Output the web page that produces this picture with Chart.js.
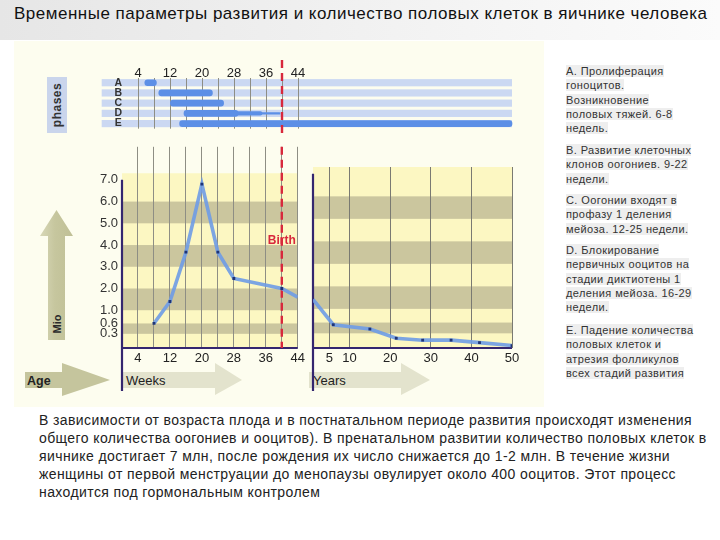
<!DOCTYPE html>
<html><head><meta charset="utf-8">
<script src="https://cdn.jsdelivr.net/npm/chart.js@4.4.1/dist/chart.umd.min.js"></script>
<style>
body{margin:0;width:720px;height:540px;position:relative;overflow:hidden;background:#fff;font-family:"Liberation Sans",Arial,sans-serif;}
.abs{position:absolute}
canvas{position:absolute}
#topband{left:0;top:0;width:720px;height:40px;background:linear-gradient(to right,#e6e6e6,#f1f1f1 50%,#fbfbfb)}
#title{left:14px;top:4px;font-size:17px;letter-spacing:0.5px;color:#111;white-space:nowrap}
#panel{left:14px;top:41px;width:530px;height:366px;background:#fdfdef}
.note{position:absolute;left:566px;font-size:11px;letter-spacing:0.4px;line-height:14.4px;color:#333;white-space:nowrap}
.note span{background:#eeeeee}
#para{left:39px;top:411px;font-size:14px;letter-spacing:0.4px;line-height:18px;color:#222;white-space:nowrap}
</style></head>
<body>
<div id="topband" class="abs"></div>
<div id="title" class="abs">Временные параметры развития и количество половых клеток в яичнике человека</div>
<div id="panel" class="abs"></div>
<svg class="abs" style="left:0;top:0" width="720" height="540">
 <defs>
  <linearGradient id="gv" x1="0" x2="1" y1="0" y2="0"><stop offset="0" stop-color="#d8d8b8"/><stop offset="0.45" stop-color="#c6c69e"/><stop offset="1" stop-color="#c0c096"/></linearGradient>
 </defs>
 <polygon points="48,340 65,340 65,236 73,236 56.5,210 40,236 48,236" fill="url(#gv)"/>
 <polygon points="25,372 62,372 62,363 110,380 62,396 62,388 25,388" fill="#c5c59d"/>
 <polygon points="123,372 215,372 215,363 242,380 215,395 215,388 123,388" fill="#e3e3cd"/>
 <polygon points="309,372 401,372 401,363 430,380 401,395 401,388 309,388" fill="#e3e3cd"/>
 <rect x="47" y="77" width="20" height="56" fill="#cad5ec"/>
 <text x="0" y="0" transform="translate(61,105) rotate(-90)" text-anchor="middle" font-size="12" font-weight="bold" fill="#333" font-family="Liberation Sans, Arial, sans-serif" letter-spacing="0.5">phases</text>
 <text x="0" y="0" transform="translate(61,324) rotate(-90)" text-anchor="middle" font-size="11" font-weight="bold" fill="#2a2a2a" font-family="Liberation Sans, Arial, sans-serif">Mio</text>
 <text x="27" y="384.5" font-size="12.5" font-weight="bold" fill="#222" font-family="Liberation Sans, Arial, sans-serif">Age</text>
 <text x="126" y="384.5" font-size="13" fill="#222" font-family="Liberation Sans, Arial, sans-serif">Weeks</text>
 <text x="313" y="384.5" font-size="13" fill="#222" font-family="Liberation Sans, Arial, sans-serif">Years</text>
</svg>
<canvas id="cPhase" width="420" height="80" style="left:100px;top:55px;width:420px;height:80px"></canvas>
<canvas id="cWeeks" width="246" height="257" style="left:62px;top:135px;width:246px;height:257px"></canvas>
<canvas id="cYears" width="215" height="229" style="left:309px;top:163px;width:215px;height:229px"></canvas>

<div class="note" style="top:63.8px"><span>А. Пролиферация</span><br><span>гоноцитов.</span><br><span>Возникновение</span><br><span>половых тяжей. 6-8</span><br><span>недель.</span></div>
<div class="note" style="top:142.8px"><span>В. Развитие клеточных</span><br><span>клонов оогониев. 9-22</span><br><span>недели.</span></div>
<div class="note" style="top:192.8px"><span>С. Оогонии входят в</span><br><span>профазу 1 деления</span><br><span>мейоза. 12-25 недели.</span></div>
<div class="note" style="top:242.8px"><span>D. Блокирование</span><br><span>первичных ооцитов на</span><br><span>стадии диктиотены 1</span><br><span>деления мейоза. 16-29</span><br><span>недели.</span></div>
<div class="note" style="top:322.8px"><span>Е. Падение количества</span><br><span>половых клеток и</span><br><span>атрезия фолликулов</span><br><span>всех стадий развития</span></div>

<div id="para" class="abs">В зависимости от возраста плода и в постнатальном периоде развития происходят изменения<br>общего количества оогониев и ооцитов). В пренатальном развитии количество половых клеток в<br>яичнике достигает 7 млн, после рождения их число снижается до 1-2 млн. В течение жизни<br>женщины от первой менструации до менопаузы овулирует около 400 ооцитов. Этот процесс<br>находится под гормональным контролем</div>

<script>
// ---------- data ----------
const phaseLabels = ['A','B','C','D','E'];
const phaseStart  = [5.7, 9.2, 12.1, 15.5, 14.4];
const phaseEnd    = [8.6, 22.6, 25.4, 39.5, 97.5];
const phaseDThickEnd = 29;   // phase D: thick part ends, then tapers to phaseEnd[3]
const phaseDMidEnd   = 35;

const weekTickLabels = [4, 12, 20, 28, 36, 44];
const weekGrid = [4, 8, 12, 16, 20, 24, 28, 32, 36, 40, 44];
const birthWeek = 40;

const weekX = [8, 12, 16, 20, 24, 28, 40, 44];
const weekY = [0.6, 1.4, 3.67, 6.8, 3.67, 2.46, 2.0, 1.6];

const yearTicks = [5, 10, 20, 30, 40, 50];
const yearX = [1, 6, 15, 21.5, 28, 35, 42, 50];
const yearY = [1.42, 0.54, 0.42, 0.2, 0.16, 0.16, 0.11, 0.05];

const yTicks = [0.3, 0.6, 1, 2, 3, 4, 5, 6, 7];
const darkBands = [[5, 6], [3, 4], [1, 2], [0.3, 0.6]];

// ---------- piecewise value scale ----------
const KV = [0, 0.3, 0.6, 1, 7];
const KU = [0, 15, 26, 40, 178];
function fwd(v){
  if (v <= KV[0]) return KU[0] + (v - KV[0]) * 50;
  for (let i = 1; i < KV.length; i++) if (v <= KV[i]) return KU[i-1] + (v - KV[i-1]) * (KU[i]-KU[i-1])/(KV[i]-KV[i-1]);
  return KU[KU.length-1] + (v - KV[KV.length-1]) * 23;
}
function inv(u){
  if (u <= KU[0]) return KV[0] + (u - KU[0]) / 50;
  for (let i = 1; i < KU.length; i++) if (u <= KU[i]) return KV[i-1] + (u - KU[i-1]) * (KV[i]-KV[i-1])/(KU[i]-KU[i-1]);
  return KV[KV.length-1] + (u - KU[KU.length-1]) / 23;
}
class BandScale extends Chart.LinearScale {
  getPixelForValue(v){ const a = fwd(this.min), b = fwd(this.max); return this.getPixelForDecimal((fwd(v) - a) / (b - a)); }
  getValueForPixel(p){ const a = fwd(this.min), b = fwd(this.max); return inv(a + this.getDecimalForPixel(p) * (b - a)); }
}
BandScale.id = 'bandscale';
BandScale.defaults = Chart.LinearScale.defaults;
Chart.register(BandScale);

Chart.defaults.font.family = "'Liberation Sans', Arial, sans-serif";

const LIGHT = '#fcf7c2', DARK = '#cbc69e', LINE = 'rgba(110,155,230,0.9)', MARK = '#1f3475';
const BAR = '#5c8fe6', ROW = '#cbd8f2', PURPLE = '#34266f', RED = '#d8283c', GRID = '#8e8e84';
const yMaxWeeks = inv(213), yMaxYears = inv(185), yFill = inv(185);

const bandsPlugin = { id: 'bands', beforeDraw(chart){
  const {ctx, chartArea: a, scales: {y}} = chart;
  ctx.save();
  const top = y.getPixelForValue(yFill);
  ctx.fillStyle = LIGHT; ctx.fillRect(a.left, top, a.right - a.left, a.bottom - top);
  ctx.fillStyle = DARK;
  darkBands.forEach(([lo, hi]) => { const p1 = y.getPixelForValue(hi), p2 = y.getPixelForValue(lo); ctx.fillRect(a.left, p1, a.right - a.left, p2 - p1); });
  ctx.restore();
}};
const axisPlugin = { id: 'axes', beforeDatasetsDraw(chart){
  const {ctx, chartArea: a, scales: {y}} = chart;
  ctx.save(); ctx.strokeStyle = PURPLE; ctx.lineWidth = 2.2;
  ctx.beginPath();
  ctx.moveTo(a.left, y.getPixelForValue(7)); ctx.lineTo(a.left, chart.height - 1);
  ctx.moveTo(a.left - 1, a.bottom); ctx.lineTo(a.right, a.bottom);
  ctx.stroke(); ctx.restore();
}};
const birthPlugin = { id: 'birth', beforeDatasetsDraw(chart){
  const {ctx, chartArea: a, scales: {x}} = chart;
  const px = x.getPixelForValue(birthWeek);
  ctx.save(); ctx.strokeStyle = RED; ctx.lineWidth = 2.4; ctx.setLineDash([8, 5]);
  ctx.beginPath(); ctx.moveTo(px, a.top); ctx.lineTo(px, a.bottom); ctx.stroke();
  ctx.setLineDash([]);
  ctx.fillStyle = RED; ctx.font = "bold 12px 'Liberation Sans', Arial, sans-serif";
  ctx.textAlign = 'center'; ctx.textBaseline = 'middle';
  ctx.fillText('Birth', px, chart.scales.y.getPixelForValue(4.18));
  ctx.restore();
}};
const rowsPlugin = { id: 'rows', beforeDraw(chart){
  const {ctx, scales: {x, y}} = chart;
  ctx.save(); ctx.fillStyle = ROW;
  const x0 = 1.7, x1 = x.getPixelForValue(phaseEnd[4]);
  phaseLabels.forEach((_, i) => { const cy = y.getPixelForValue(i); ctx.fillRect(x0, cy - 3.6, x1 - x0, 7.2); });
  ctx.restore();
}};
const birthPhasePlugin = { id: 'birthPhase', afterDatasetsDraw(chart){
  const {ctx, scales: {x}} = chart;
  const px = x.getPixelForValue(birthWeek);
  ctx.save(); ctx.strokeStyle = RED; ctx.lineWidth = 2.4; ctx.setLineDash([8, 5]);
  ctx.beginPath(); ctx.moveTo(px, 5); ctx.lineTo(px, chart.height); ctx.stroke();
  ctx.restore();
}};

const common = { responsive: false, animation: false, events: [], devicePixelRatio: 1,
  plugins: { legend: { display: false }, tooltip: { enabled: false } } };

// ---------- phases ----------
const onlyD = (v) => phaseLabels.map((_, i) => i === 3 ? v : null);
new Chart(document.getElementById('cPhase'), {
  type: 'bar',
  data: { labels: phaseLabels, datasets: [
    { data: phaseLabels.map((_, i) => [phaseStart[i], i === 3 ? phaseDThickEnd : phaseEnd[i]]), barThickness: 6, backgroundColor: BAR, borderRadius: 3, borderSkipped: false, grouped: false },
    { data: onlyD([phaseDThickEnd - 1, phaseDMidEnd]), barThickness: 3.6, backgroundColor: BAR, borderRadius: 2, borderSkipped: false, grouped: false },
    { data: onlyD([phaseDMidEnd - 1, phaseEnd[3]]), barThickness: 1.8, backgroundColor: BAR, borderRadius: 1, borderSkipped: false, grouped: false }
  ]},
  options: Object.assign({}, common, {
    indexAxis: 'y', layout: { padding: 0 },
    scales: {
      x: { type: 'linear', position: 'top', min: 0, max: 99.5,
        afterBuildTicks: s => { s.ticks = weekGrid.map(v => ({ value: v })); },
        afterFit: s => { s.height = 22.6; },
        ticks: { autoSkip: false, maxRotation: 0, padding: -4, font: { size: 13 }, color: '#222', callback: v => weekTickLabels.includes(v) ? String(v) : '' },
        grid: { color: GRID, drawTicks: false }, border: { display: false } },
      y: { afterFit: s => { s.width = 22; },
        ticks: { autoSkip: false, crossAlign: 'center', padding: 0, font: { size: 10.5, weight: 'bold' }, color: '#333' },
        grid: { display: false, drawTicks: false }, border: { display: false } }
    }
  }),
  plugins: [rowsPlugin, birthPhasePlugin]
});

// ---------- weeks ----------
new Chart(document.getElementById('cWeeks'), {
  type: 'line',
  data: { datasets: [{ data: weekX.map((x, i) => ({ x, y: weekY[i] })), borderColor: LINE, borderWidth: 3.6, tension: 0,
    pointRadius: c => c.dataIndex === weekX.length - 1 ? 0 : 2, pointStyle: 'rect', pointBackgroundColor: MARK, pointBorderWidth: 0 }]},
  options: Object.assign({}, common, {
    layout: { padding: { right: 10 } },
    scales: {
      x: { type: 'linear', min: 0, max: 44,
        afterBuildTicks: s => { s.ticks = weekGrid.map(v => ({ value: v })); },
        afterFit: s => { s.height = 44; },
        ticks: { autoSkip: false, maxRotation: 0, padding: 3, font: { size: 13 }, color: '#222', callback: v => weekTickLabels.includes(v) ? String(v) : '' },
        grid: { color: GRID, drawTicks: false }, border: { display: false } },
      y: { type: 'bandscale', min: 0, max: yMaxWeeks,
        afterBuildTicks: s => { s.ticks = yTicks.map(v => ({ value: v })); },
        afterFit: s => { s.width = 60; },
        ticks: { autoSkip: false, padding: 4, font: { size: 13 }, color: '#333', callback: v => Number(v).toFixed(1) },
        grid: { display: false, drawTicks: false }, border: { display: false } }
    }
  }),
  plugins: [bandsPlugin, axisPlugin, birthPlugin]
});

// ---------- years ----------
new Chart(document.getElementById('cYears'), {
  type: 'line',
  data: { datasets: [{ data: yearX.map((x, i) => ({ x, y: yearY[i] })), borderColor: LINE, borderWidth: 3.6, tension: 0,
    pointRadius: c => c.dataIndex === 0 ? 0 : 2, pointStyle: 'rect', pointBackgroundColor: MARK, pointBorderWidth: 0 }]},
  options: Object.assign({}, common, {
    layout: { padding: { right: 12 } },
    scales: {
      x: { type: 'linear', min: 1, max: 50,
        afterBuildTicks: s => { s.ticks = yearTicks.map(v => ({ value: v })); },
        afterFit: s => { s.height = 44; },
        ticks: { autoSkip: false, maxRotation: 0, padding: 3, font: { size: 13 }, color: '#222' },
        grid: { color: '#7a7a72', drawTicks: false }, border: { display: false } },
      y: { type: 'bandscale', min: 0, max: yMaxYears, display: false,
        afterBuildTicks: s => { s.ticks = yTicks.map(v => ({ value: v })); } }
    }
  }),
  plugins: [bandsPlugin, axisPlugin]
});
</script>
</body></html>
